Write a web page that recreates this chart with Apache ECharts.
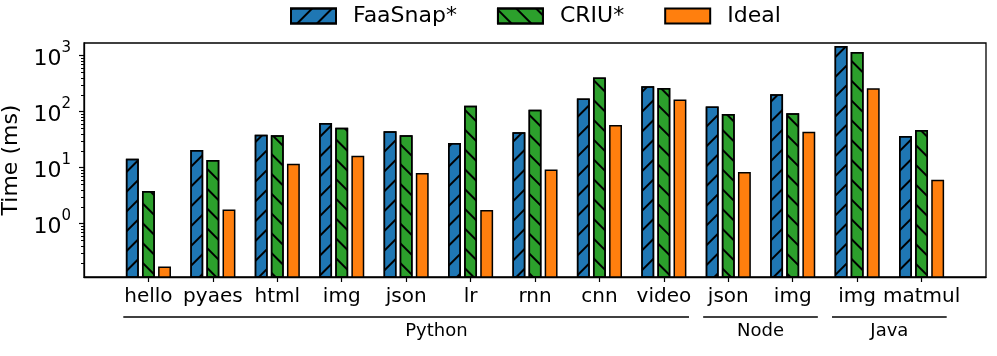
<!doctype html>
<html lang="en">
<head>
<meta charset="UTF-8">
<title>Startup time</title>
<script src="https://cdn.jsdelivr.net/npm/echarts@6/dist/echarts.min.js"></script>
<style>
  html, body { margin: 0; padding: 0; background: #fff; }
  #chart { width: 997px; height: 356px; }
</style>
</head>
<body>
<div id="chart"></div>
<script>
// benchmark names, in axis order
const categories = ['hello', 'pyaes', 'html', 'img', 'json', 'lr', 'rnn', 'cnn', 'video', 'json', 'img', 'img', 'matmul'];
// times in ms
const faasnap = [14.5, 20.7, 38.8, 62.8, 44.5, 27.6, 42.7, 171, 283, 123, 204, 1489, 36.8];
const criu = [3.84, 13.7, 37.8, 51.8, 37.8, 128, 108, 405, 265, 90.8, 93.3, 1165, 47.1];
const ideal = [0.173, 1.80, 11.8, 16.4, 8.0, 1.75, 9.3, 57.8, 164, 8.4, 43.9, 261, 6.1];
// runtime groups: name, first index, last index
const groups = [['Python', 0, 8], ['Node', 9, 10], ['Java', 11, 12]];
const groupLabelAt = [4.47, 9.5, 11.5];
const majorTicks = [1, 10, 100, 1000];
const minorTicks = [0.2, 0.3, 0.4, 0.5, 0.6, 0.7, 0.8, 0.9,
                    2, 3, 4, 5, 6, 7, 8, 9,
                    20, 30, 40, 50, 60, 70, 80, 90,
                    200, 300, 400, 500, 600, 700, 800, 900];

const FONT = 'DejaVu Sans';
const chart = echarts.init(document.getElementById('chart'), null, {renderer: 'canvas'});

function hatch(rot) {
    return {
        symbol: 'rect',
        symbolSize: 1,
        color: '#000',
        backgroundColor: null,
        dashArrayX: [1, 0],
        dashArrayY: [1.6, 11.4],
        rotation: rot
    };
}

function pts(arr) {
    return arr.map((v, i) => [i, v]);
}

const barBase = {
    type: 'bar',
    barWidth: '20%',
    barGap: '25%',
    xAxisIndex: 0,
    yAxisIndex: 0
};

const logAxis = {
    type: 'log',
    logBase: 10,
    min: 0.112,
    max: 1680,
    startValue: 0.01,
    splitLine: {show: false}
};

const option = {
    animation: false,
    textStyle: {fontFamily: FONT},
    grid: {
        left: 84, right: 11, top: 43, bottom: 79,
        outerBoundsMode: 'none',
        containLabel: false,
        show: true, borderColor: '#000', borderWidth: 1.3, backgroundColor: 'transparent'
    },
    legend: {
        data: ['FaaSnap*', 'CRIU*', 'Ideal'],
        left: 285,
        top: 0,
        icon: 'rect',
        itemWidth: 45,
        itemHeight: 15,
        itemGap: 40,
        textStyle: {fontSize: 22, color: '#000', fontFamily: FONT, padding: [0, 0, 0, 12]}
    },
    xAxis: {
        type: 'value',
        min: -1,
        max: 13,
        splitLine: {show: false},
        axisLine: {onZero: false, lineStyle: {color: '#000', width: 1.3}},
        axisTick: {show: true, customValues: categories.map((c, i) => i), length: 5, lineStyle: {color: '#000', width: 1.2}},
        axisLabel: {
            customValues: categories.map((c, i) => i),
            formatter: v => categories[v],
            fontSize: 20,
            color: '#000',
            margin: 10
        }
    },
    yAxis: [
        Object.assign({}, logAxis, {
            name: 'Time (ms)',
            nameLocation: 'middle',
            nameGap: 60,
            nameTextStyle: {fontSize: 22, color: '#000'},
            axisLine: {show: true, onZero: false, lineStyle: {color: '#000', width: 1.3}},
            axisTick: {show: true, customValues: majorTicks, length: 5, lineStyle: {color: '#000', width: 1.2}},
            axisLabel: {
                customValues: majorTicks,
                margin: 13,
                formatter: v => '{b|10}{s|' + Math.round(Math.log10(v)) + '}',
                rich: {
                    b: {fontSize: 22, color: '#000', fontFamily: FONT, verticalAlign: 'bottom', lineHeight: 30},
                    s: {fontSize: 15, color: '#000', fontFamily: FONT, verticalAlign: 'top', lineHeight: 30}
                }
            }
        }),
        // second copy of the scale, only for the small log ticks
        Object.assign({}, logAxis, {
            position: 'left',
            offset: 0,
            axisLine: {show: false, onZero: false},
            axisTick: {show: true, customValues: minorTicks, length: 3, lineStyle: {color: '#000', width: 1}},
            axisLabel: {show: true, customValues: minorTicks, formatter: () => ''}
        })
    ],
    series: [
        Object.assign({}, barBase, {
            name: 'FaaSnap*',
            data: pts(faasnap),
            itemStyle: {color: '#1f77b4', borderColor: '#000', borderWidth: 1.5, decal: hatch(-Math.PI / 4)}
        }),
        Object.assign({}, barBase, {
            name: 'CRIU*',
            data: pts(criu),
            itemStyle: {color: '#2ca02c', borderColor: '#000', borderWidth: 1.5, decal: hatch(Math.PI / 4)}
        }),
        Object.assign({}, barBase, {
            name: 'Ideal',
            data: pts(ideal),
            itemStyle: {color: '#ff7f0e', borderColor: '#000', borderWidth: 1.5}
        })
    ]
};

chart.setOption(option);

// runtime brackets under the category labels
const gx = v => chart.convertToPixel({xAxisIndex: 0}, v);
const graphics = [];
groups.forEach((g, k) => {
    const x1 = gx(g[1] - 0.39);
    const x2 = gx(g[2] + 0.39);
    graphics.push({
        type: 'line',
        shape: {x1: x1, y1: 317, x2: x2, y2: 317},
        style: {stroke: '#000', lineWidth: 1.5}
    });
    graphics.push({
        type: 'text',
        x: gx(groupLabelAt[k]),
        y: 331,
        style: {text: g[0], fontSize: 18, fontFamily: FONT, fill: '#000', align: 'center', verticalAlign: 'middle'}
    });
});
chart.setOption({graphic: graphics});
</script>
</body>
</html>
